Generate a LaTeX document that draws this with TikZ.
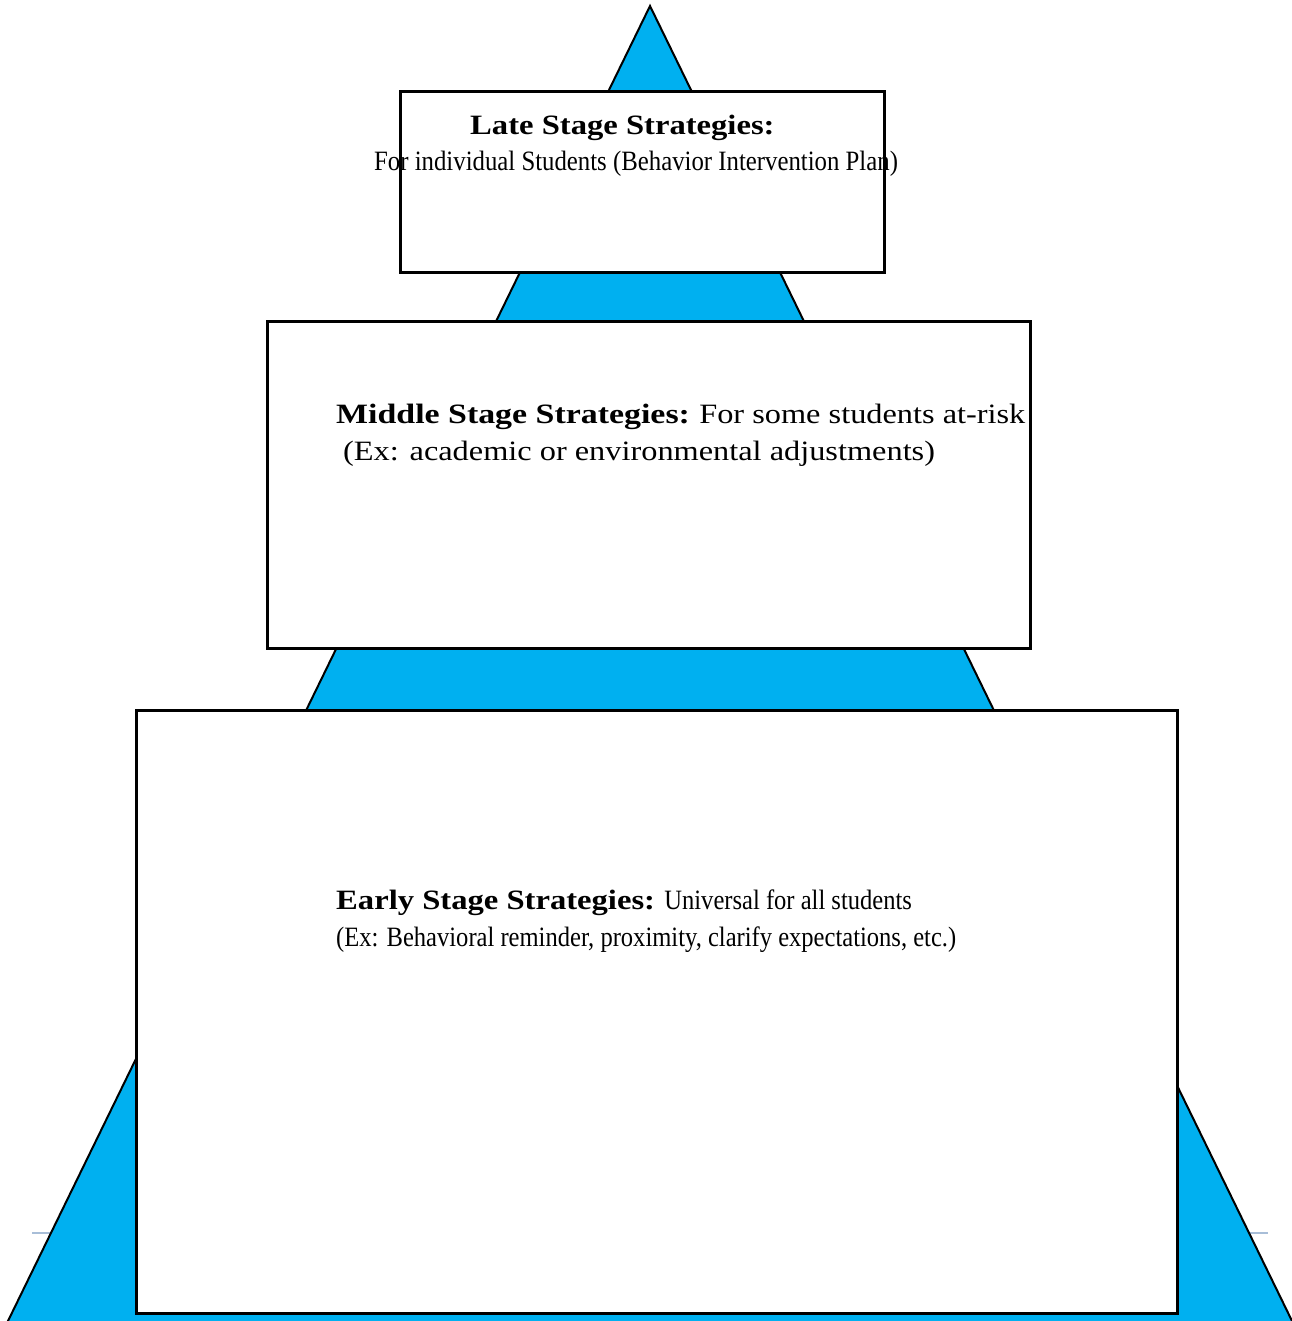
\documentclass[tikz,border=0pt]{standalone}
\usepackage{fontspec}
\setmainfont{Liberation Serif}
\newfontfamily\condfont[FakeStretch=0.885]{Liberation Serif}
\newfontfamily\condfontB[FakeStretch=0.877]{Liberation Serif}
\newfontfamily\widefont[FakeStretch=1.155]{Liberation Serif}
\newfontfamily\headfont[FakeStretch=1.165]{Liberation Serif}
\newfontfamily\headfontM[FakeStretch=1.21]{Liberation Serif}
\definecolor{pyr}{HTML}{00B0F0}
\definecolor{faint}{HTML}{A8BED8}
\begin{document}
\begin{tikzpicture}[x=1pt,y=-1pt,
  tier/.style={draw=black, line width=3pt, fill=white, outer sep=0pt, inner sep=0pt},
  lbl/.style={anchor=base west, inner sep=0pt, font=\fontsize{28}{32}\selectfont}
]
\useasboundingbox (0,0) rectangle (1291,1321);
\coordinate (fl) at (32,1233);
\coordinate (fr) at (1268,1233);
\draw[faint, line width=1.5pt] (fl) -- (fr);
\coordinate (apex) at (650,6);
\coordinate (bl) at (7,1323);
\coordinate (br) at (1293,1323);
\filldraw[fill=pyr, draw=black, line width=2pt, line join=miter] (bl) -- (apex) -- (br) -- cycle;
\node[tier, minimum width=484pt, minimum height=181pt, anchor=north west] (late) at (400,92) {};
\node[tier, minimum width=763pt, minimum height=327pt, anchor=north west] (mid) at (267,321) {};
\node[tier, minimum width=1041pt, minimum height=603pt, anchor=north west] (early) at (136,710) {};
\node[lbl] (lateA) at (470,135) {{\headfont\bfseries Late Stage Strategies:}};
\node[lbl] (lateB) at (374,171) {\condfont For individual Students (Behavior Intervention Plan)};
\node[lbl] (midA) at (336,423) {{\headfontM\bfseries Middle Stage Strategies:} {\widefont For some students at-risk}};
\node[lbl] (midB) at (343,460) {\widefont (Ex: academic or environmental adjustments)};
\node[lbl] (earlyA) at (336,909) {{\headfont\bfseries Early Stage Strategies:} {\condfontB Universal for all students}};
\node[lbl] (earlyB) at (336,946) {\condfontB (Ex: Behavioral reminder, proximity, clarify expectations, etc.)};
\end{tikzpicture}
\end{document}
